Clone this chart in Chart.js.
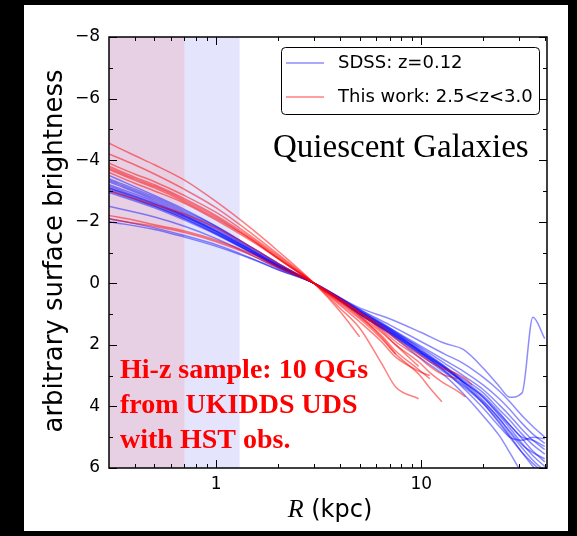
<!DOCTYPE html>
<html>
<head>
<meta charset="utf-8">
<script src="https://cdn.jsdelivr.net/npm/chart.js@4"></script>
<style>
  html, body { margin: 0; padding: 0; background: #000; }
  canvas { display: block; }
</style>
</head>
<body>
<canvas id="myChart" width="577" height="536"></canvas>
<script>
const sdssRadius = [0.3, 0.5, 0.7, 1, 1.5, 2, 3, 5, 7, 10, 13, 16, 20, 24, 27, 31, 35, 40]
const hizRadius = [0.3, 0.4, 0.5, 0.7, 1, 1.5, 2, 3, 4, 5, 6.4, 7.5, 9.7, 11, 12.6, 15, 16.4, 17.7]

// SDSS z=0.12 profiles (arbitrary surface brightness)
const sdss1 = [-3.5, -2.85, -2.4, -1.85, -1.15, -0.65, 0, 0.8, 1.15, 1.6, 1.95, 2.15, 2.75, 3.35, 3.7, 3.56, 1.1, 1.8]
const sdss2 = [-3.4, -2.8, -2.35, -1.85, -1.15, -0.65, 0, 0.85, 1.35, 1.9, 2.3, 2.6, 3.05, 3.5, 3.85, 4.3, 4.65, 5.0]
const sdss3 = [-3.35, -2.75, -2.3, -1.8, -1.1, -0.62, 0, 0.9, 1.45, 2.05, 2.5, 2.85, 3.3, 3.75, 4.1, 4.55, 4.9, 5.2]
const sdss4 = [-3.3, -2.7, -2.25, -1.75, -1.08, -0.6, 0, 0.92, 1.5, 2.1, 2.6, 3.0, 3.45, 3.95, 4.3, 4.75, 5.1, 5.4]
const sdss5 = [-3.2, -2.65, -2.2, -1.7, -1.05, -0.58, 0, 0.95, 1.55, 2.2, 2.7, 3.1, 3.55, 4.1, 4.45, 4.9, 5.25, 5.55]
const sdss6 = [-3.15, -2.6, -2.2, -1.7, -1.05, -0.58, 0, 0.95, 1.55, 2.25, 2.75, 3.15, 3.65, 4.2, 4.6, 5.05, 5.45, 5.8]
const sdss7 = [-3.1, -2.55, -2.15, -1.65, -1.0, -0.55, 0, 0.98, 1.6, 2.3, 2.8, 3.2, 3.7, 4.3, 4.7, 5.2, 5.6, 5.95]
const sdss8 = [-3.05, -2.5, -2.1, -1.62, -1.0, -0.55, 0, 1.0, 1.62, 2.35, 2.9, 3.35, 3.9, 4.5, 4.95, 5.5, 5.95, 6.4]
const sdss9 = [-3.0, -2.5, -2.1, -1.6, -0.98, -0.53, 0, 1.0, 1.65, 2.45, 3.0, 3.58, 4.3, 4.95, 5.5, 6.2, null, null]
const sdss10 = [-2.95, -2.45, -2.05, -1.58, -0.97, -0.53, 0, 1.0, 1.6, 2.3, 2.85, 3.3, 3.85, 4.4, 4.85, 5.35, 5.75, 6.1]
const sdss11 = [-3.1, -2.58, -2.17, -1.68, -1.03, -0.57, 0, 0.96, 1.57, 2.25, 2.75, 3.2, 3.7, 4.25, 4.6, 5.0, 5.1, 5.3]
const sdss12 = [-2.5, -2.15, -1.85, -1.45, -0.9, -0.5, 0, 0.9, 1.5, 2.2, 2.75, 3.25, 3.9, 4.55, 5.0, 5.5, 5.85, 6.2]
const sdss13 = [-2.1, -1.8, -1.55, -1.25, -0.8, -0.45, 0, 0.85, 1.45, 2.15, 2.7, 3.2, 3.8, 4.4, 4.8, 5.25, 5.5, 5.7]
const sdss14 = [-2.0, -1.75, -1.5, -1.2, -0.78, -0.44, 0, 0.88, 1.5, 2.25, 2.85, 3.4, 4.05, 4.65, 5.0, 5.1, 5.0, 5.05]

// this work, 2.5<z<3.0
const hiz1 = [-4.55, -4.15, -3.85, -3.35, -2.65, -1.75, -1.05, 0, 0.9, 1.74, null, null, null, null, null, null, null, null]
const hiz2 = [-4.2, -3.85, -3.55, -3.05, -2.45, -1.6, -0.95, 0, 0.8, 1.45, 2.6, 3.37, 3.75, null, null, null, null, null]
const hiz3 = [-3.9, -3.55, -3.3, -2.85, -2.3, -1.5, -0.9, 0, 0.7, 1.25, 1.9, 2.4, 2.85, 3.0, null, null, null, null]
const hiz4 = [-3.8, -3.45, -3.2, -2.75, -2.2, -1.45, -0.85, 0, 0.65, 1.15, 1.8, 2.3, 2.95, 3.4, 3.85, null, null, null]
const hiz5 = [-3.7, -3.35, -3.1, -2.65, -2.1, -1.4, -0.8, 0, 0.6, 1.05, 1.6, 2.0, 2.55, 2.9, 3.2, 3.5, 3.69, null]
const hiz6 = [-3.6, -3.25, -3.0, -2.6, -2.05, -1.35, -0.8, 0, 0.55, 0.95, 1.4, 1.8, 2.3, 2.55, 2.75, 2.95, 3.1, 3.3]
const hiz7 = [-3.0, -2.75, -2.55, -2.25, -1.8, -1.15, -0.65, 0, 0.5, 0.95, 1.5, 1.9, 2.4, 2.7, 2.95, 3.1, null, null]
const hiz8 = [-2.2, -2.05, -1.9, -1.7, -1.4, -0.95, -0.55, 0, 0.55, 1.05, 1.75, 2.3, null, null, null, null, null, null]
const hiz9 = [-2.1, -1.95, -1.85, -1.65, -1.35, -0.9, -0.5, 0, 0.5, 0.95, 1.55, 2.0, 2.7, null, null, null, null, null]
const hiz10 = [-3.75, -3.4, -3.15, -2.7, -2.15, -1.4, -0.82, 0, 0.6, 1.1, 1.7, 2.2, 2.8, 3.1, null, null, null, null]

const sdssProfiles = [sdss1, sdss2, sdss3, sdss4, sdss5, sdss6, sdss7, sdss8, sdss9, sdss10, sdss11, sdss12, sdss13, sdss14]
const hizProfiles = [hiz1, hiz2, hiz3, hiz4, hiz5, hiz6, hiz7, hiz8, hiz9, hiz10]

const xTickValues = [1, 10]
const xMinorTicks = [0.4, 0.5, 0.6, 0.7, 0.8, 0.9, 2, 3, 4, 5, 6, 7, 8, 9, 20, 30, 40]
const yTickValues = [-8, -6, -4, -2, 0, 2, 4, 6]
const yMinorTicks = [-7, -5, -3, -1, 1, 3, 5]

// resolution bands (kpc)
const hstBand = [0.3, 1.3]
const sdssBand = [0.3, 0.7]

const legendLabels = ['SDSS: z=0.12', 'This work: 2.5<z<3.0']
const panelTitle = 'Quiescent Galaxies'
const sampleNote = ['Hi-z sample: 10 QGs', 'from UKIDDS UDS', 'with HST obs.']

const BLUE = 'rgba(0, 0, 255, 0.45)'
const RED = 'rgba(255, 0, 0, 0.5)'

function toPoints(radius, values) {
  return radius.map((r, i) => ({ x: r, y: values[i] })).filter(p => p.y !== null)
}

const datasets = [
  ...hizProfiles.map((v, i) => ({ label: 'hiz' + i, data: toPoints(hizRadius, v), borderColor: RED })),
  ...sdssProfiles.map((v, i) => ({ label: 'sdss' + i, data: toPoints(sdssRadius, v), borderColor: BLUE })),
]

const minus = v => (v < 0 ? '\u2212' + Math.abs(v) : String(v))

const decor = {
  id: 'decor',
  beforeDraw(chart) {
    const { ctx, width, height } = chart
    ctx.save()
    ctx.fillStyle = '#000'
    ctx.fillRect(0, 0, width, height)
    ctx.fillStyle = '#fff'
    ctx.fillRect(24, 5, 544, 526)
    ctx.restore()
  },
  beforeDatasetsDraw(chart) {
    const { ctx, chartArea: a, scales: { x } } = chart
    ctx.save()
    let x0 = x.getPixelForValue(hstBand[0])
    let x1 = x.getPixelForValue(hstBand[1])
    ctx.fillStyle = 'rgb(228, 228, 253)'
    ctx.fillRect(x0, a.top, x1 - x0, a.bottom - a.top)
    x0 = x.getPixelForValue(sdssBand[0])
    x1 = x.getPixelForValue(sdssBand[1])
    ctx.fillStyle = 'rgb(231, 208, 228)'
    ctx.fillRect(x0, a.top, x1 - x0, a.bottom - a.top)
    ctx.restore()
  },
  afterDatasetsDraw(chart) {
    const { ctx, chartArea: a, scales: { x, y } } = chart
    ctx.save()

    // frame
    ctx.strokeStyle = '#000'
    ctx.lineWidth = 1.5
    ctx.strokeRect(a.left, a.top, a.right - a.left, a.bottom - a.top)

    // inward ticks on all four sides
    ctx.lineWidth = 1
    ctx.beginPath()
    const xt = (v, len) => {
      const px = Math.round(x.getPixelForValue(v)) + 0.5
      ctx.moveTo(px, a.bottom); ctx.lineTo(px, a.bottom - len)
      ctx.moveTo(px, a.top); ctx.lineTo(px, a.top + len)
    }
    const yt = (v, len) => {
      const py = Math.round(y.getPixelForValue(v)) + 0.5
      ctx.moveTo(a.left, py); ctx.lineTo(a.left + len, py)
      ctx.moveTo(a.right, py); ctx.lineTo(a.right - len, py)
    }
    xTickValues.forEach(v => xt(v, 8))
    xMinorTicks.forEach(v => xt(v, 4))
    yTickValues.forEach(v => yt(v, 8))
    yMinorTicks.forEach(v => yt(v, 4))
    ctx.stroke()

    // legend
    const lx = 281, ly = 47, lw = 258, lh = 67
    ctx.fillStyle = '#fff'
    ctx.strokeStyle = '#000'
    ctx.lineWidth = 1
    ctx.beginPath()
    ctx.roundRect(lx + 0.5, ly + 0.5, lw, lh, 4)
    ctx.fill()
    ctx.stroke()
    ctx.lineWidth = 1.5
    ;[BLUE, RED].forEach((c, i) => {
      const yy = ly + 16 + i * 34
      ctx.strokeStyle = c
      ctx.beginPath()
      ctx.moveTo(lx + 5, yy)
      ctx.lineTo(lx + 43, yy)
      ctx.stroke()
      ctx.fillStyle = '#000'
      ctx.font = '18px "DejaVu Sans"'
      ctx.textBaseline = 'middle'
      ctx.textAlign = 'left'
      ctx.fillText(legendLabels[i], lx + 57, yy)
    })

    // panel title
    ctx.fillStyle = '#000'
    ctx.font = '33px "Liberation Serif"'
    ctx.textBaseline = 'alphabetic'
    ctx.fillText(panelTitle, 273, 157)

    // sample note
    ctx.fillStyle = '#ff0000'
    ctx.font = 'bold 28px "Liberation Serif"'
    sampleNote.forEach((t, i) => ctx.fillText(t, 120, 378 + i * 35))

    // axis titles
    ctx.fillStyle = '#000'
    ctx.save()
    ctx.translate(55, 251)
    ctx.rotate(-Math.PI / 2)
    ctx.font = '26px "DejaVu Sans"'
    ctx.textAlign = 'center'
    ctx.textBaseline = 'middle'
    ctx.fillText('arbitrary surface brightness', 0, 0)
    ctx.restore()

    ctx.textAlign = 'left'
    ctx.textBaseline = 'alphabetic'
    ctx.font = 'italic 26px "Liberation Serif"'
    const rW = ctx.measureText('R').width
    ctx.font = '24px "DejaVu Sans"'
    const restW = ctx.measureText(' (kpc)').width
    const sx = 330 - (rW + restW) / 2
    ctx.font = 'italic 26px "Liberation Serif"'
    ctx.fillText('R', sx, 517)
    ctx.font = '24px "DejaVu Sans"'
    ctx.fillText(' (kpc)', sx + rW, 517)

    ctx.restore()
  },
}

new Chart(document.getElementById('myChart').getContext('2d'), {
  type: 'line',
  data: { datasets },
  options: {
    responsive: false,
    animation: false,
    devicePixelRatio: 1,
    layout: { padding: { left: 24, top: 37, right: 30, bottom: 6 } },
    plugins: { legend: { display: false }, tooltip: { enabled: false } },
    elements: {
      point: { radius: 0 },
      line: { borderWidth: 1.5, cubicInterpolationMode: 'monotone' },
    },
    scales: {
      x: {
        type: 'logarithmic',
        min: 0.3,
        max: 41,
        grid: { display: false, drawTicks: false },
        border: { display: false },
        afterBuildTicks: s => { s.ticks = xTickValues.map(v => ({ value: v })) },
        afterFit: s => { s.height = 62 },
        ticks: {
          autoSkip: false,
          maxRotation: 0,
          padding: 6,
          color: '#000',
          font: { family: 'DejaVu Sans', size: 17 },
          callback: v => String(v),
        },
      },
      y: {
        min: -8,
        max: 6,
        reverse: true,
        grid: { display: false, drawTicks: false },
        border: { display: false },
        afterFit: s => { s.width = 85 },
        ticks: {
          stepSize: 2,
          padding: 9,
          color: '#000',
          font: { family: 'DejaVu Sans', size: 17 },
          callback: minus,
        },
      },
    },
  },
  plugins: [decor],
})
</script>
</body>
</html>
